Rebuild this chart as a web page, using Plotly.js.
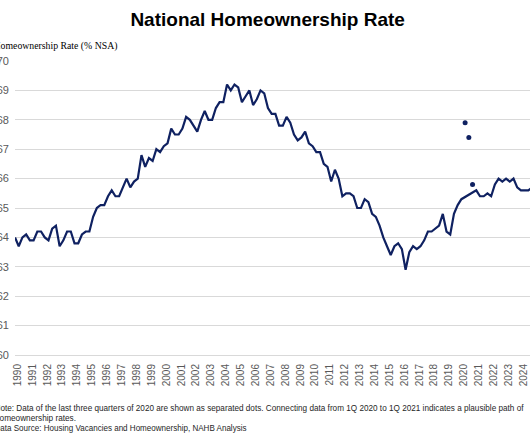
<!DOCTYPE html>
<html>
<head>
<meta charset="utf-8">
<script src="https://cdn.plot.ly/plotly-3.0.1.min.js"></script>
<style>
  html, body { margin: 0; padding: 0; background: #ffffff; overflow: hidden; }
  #chart { width: 530px; height: 442px; }
</style>
</head>
<body>
<div id="chart"></div>
<script>
// ---- Data (quarterly homeownership rate, % NSA) ----
const years = [1990,1991,1992,1993,1994,1995,1996,1997,1998,1999,
               2000,2001,2002,2003,2004,2005,2006,2007,2008,2009,
               2010,2011,2012,2013,2014,2015,2016,2017,2018,2019,
               2020,2021,2022,2023,2024];
const rate1990s = [64.0,63.7,64.0,64.1, 63.9,63.9,64.2,64.2, 64.0,63.9,64.3,64.4,
                   63.7,63.9,64.2,64.2, 63.8,63.8,64.1,64.2, 64.2,64.7,65.0,65.1,
                   65.1,65.4,65.6,65.4, 65.4,65.7,66.0,65.7, 65.9,66.0,66.8,66.4,
                   66.7,66.6,67.0,66.9];
const rate2000s = [67.1,67.2,67.7,67.5, 67.5,67.7,68.1,68.0, 67.8,67.6,68.0,68.3,
                   68.0,68.0,68.4,68.6, 68.6,69.2,69.0,69.2, 69.1,68.6,68.8,69.0,
                   68.5,68.7,69.0,68.9, 68.4,68.2,68.2,67.8, 67.8,68.1,67.9,67.5,
                   67.3,67.4,67.6,67.2];
const rate2010s = [67.1,66.9,66.9,66.5, 66.4,65.9,66.3,66.0, 65.4,65.5,65.5,65.4,
                   65.0,65.0,65.3,65.2, 64.8,64.7,64.4,64.0, 63.7,63.4,63.7,63.8,
                   63.6,62.9,63.5,63.7, 63.6,63.7,63.9,64.2, 64.2,64.3,64.4,64.8,
                   64.2,64.1,64.8,65.1];
// 2020 Q2-Q4 are not part of the line (shown as separated dots)
const rate2020s = [65.3,null,null,null, 65.6,65.4,65.4,65.5, 65.4,65.8,66.0,65.9,
                   66.0,65.9,66.0,65.7, 65.6,65.6,65.6,65.7];
const dotLabels = ["2Q 2020","3Q 2020","4Q 2020"];
const dotValues = [67.9, 67.4, 65.8];
const yTicks = [60,61,62,63,64,65,66,67,68,69,70];

const titleText = "National Homeownership Rate";
const yTitleText = "Homeownership Rate (% NSA)";
const noteLine1 = "Note: Data of the last three quarters of 2020 are shown as separated dots. Connecting data from 1Q 2020 to 1Q 2021 indicates a plausible path of";
const noteLine2 = "homeownership rates.";
const noteLine3 = "Data Source: Housing Vacancies and Homeownership, NAHB Analysis";

// ---- Build series ----
const quarters = [];
years.forEach(y => { for (let q = 1; q <= 4; q++) quarters.push(q + "Q " + y); });
const qIndex = quarters.map((_, i) => i);
const rates = rate1990s.concat(rate2000s, rate2010s, rate2020s);
const dotIndex = dotLabels.map(l => quarters.indexOf(l));
const tickVals = years.map(y => quarters.indexOf("1Q " + y) + 0.7);
const tickText = years.map(String);

const navy = "#0f2161";
const grey = "#595959";
const noteFont = { family: "Liberation Sans, Arial, sans-serif", size: 9, color: "#262626" };

const traces = [
  { x: qIndex, y: rates, type: "scatter", mode: "lines", connectgaps: true,
    line: { color: navy, width: 2.2 }, hoverinfo: "skip" },
  { x: dotIndex, y: dotValues, type: "scatter", mode: "markers",
    marker: { color: navy, size: 5 }, hoverinfo: "skip" }
];

const layout = {
  width: 530, height: 442,
  margin: { l: 15, r: 0, t: 61, b: 87, pad: 0 },
  paper_bgcolor: "#ffffff", plot_bgcolor: "#ffffff",
  showlegend: false,
  title: { text: "<b>" + titleText + "</b>",
           font: { family: "Liberation Sans, Arial, sans-serif", size: 19, color: "#000000" },
           x: 0.505, xref: "container", xanchor: "center",
           y: 1 - 19/442, yref: "container", yanchor: "middle" },
  xaxis: { type: "linear", range: [0, 515/3.72], showgrid: false, zeroline: false,
           showline: true, linecolor: "#d9d9d9", linewidth: 1,
           tickmode: "array", tickvals: tickVals, ticktext: tickText,
           tickangle: -90, ticks: "", ticklabelstandoff: 4,
           tickfont: { family: "Liberation Sans, Arial, sans-serif", size: 10, color: grey } },
  yaxis: { range: [60, 70], tickmode: "array", tickvals: yTicks,
           showgrid: true, gridcolor: "#d9d9d9", gridwidth: 1, zeroline: false,
           showline: false, ticks: "", ticklabelstandoff: 5,
           tickfont: { family: "Liberation Sans, Arial, sans-serif", size: 11, color: grey } },
  annotations: [
    { text: yTitleText, xref: "paper", yref: "paper", x: 0, y: 1, xanchor: "left", yanchor: "middle",
      yshift: 15, showarrow: false, align: "left",
      font: { family: "Liberation Serif, Times New Roman, serif", size: 10, color: "#000000" } },
    { text: noteLine1, xref: "paper", yref: "paper", x: 0, y: 0, xanchor: "left", yanchor: "middle",
      yshift: -53, showarrow: false, align: "left", font: noteFont },
    { text: noteLine2, xref: "paper", yref: "paper", x: 0, y: 0, xanchor: "left", yanchor: "middle",
      yshift: -63, showarrow: false, align: "left", font: noteFont },
    { text: noteLine3, xref: "paper", yref: "paper", x: 0, y: 0, xanchor: "left", yanchor: "middle",
      yshift: -73, showarrow: false, align: "left", font: noteFont }
  ]
};

// target left edge and width (px) of each annotation text, matching the reference crop
const annFit = [
  { left: -6.5, width: 124 },
  { left: -5.5, width: 529 },
  { left: -5,   width: 81 },
  { left: -5.5, width: 252 }
];

Plotly.newPlot("chart", traces, layout, { staticPlot: true, displayModeBar: false }).then(gd => {
  const groups = gd.querySelectorAll("g.annotation");
  const svgRect = gd.querySelector("svg.main-svg").getBoundingClientRect();
  groups.forEach((g, i) => {
    const fit = annFit[i];
    if (!fit) return;
    const t = g.querySelector("text.annotation-text");
    if (!t) return;
    t.setAttribute("textLength", fit.width);
    t.setAttribute("lengthAdjust", "spacingAndGlyphs");
    const r = t.getBoundingClientRect();
    const dx = fit.left - (r.left - svgRect.left);
    const prev = g.getAttribute("transform") || "";
    g.setAttribute("transform", prev + " translate(" + dx.toFixed(2) + ",0)");
  });
});
</script>
</body>
</html>
